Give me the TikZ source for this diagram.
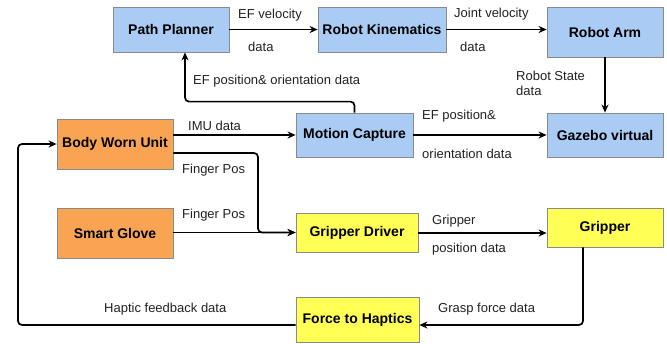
\documentclass[tikz,border=0pt]{standalone}
\usepackage{fontspec}
\setmainfont{Liberation Sans}
\usetikzlibrary{arrows.meta,calc}
\definecolor{boxblue}{HTML}{A9CBF4}
\definecolor{boxorange}{HTML}{F9A453}
\definecolor{boxyellow}{HTML}{FFFF55}
\definecolor{boxedge}{HTML}{8A8A8A}
\definecolor{labelgray}{HTML}{222222}
\tikzset{
  block/.style={draw=boxedge, line width=0.8pt, inner sep=0pt,
    font=\fontsize{14}{16}\selectfont\bfseries, text=black},
  blueblock/.style={block, fill=boxblue},
  orangeblock/.style={block, fill=boxorange},
  yellowblock/.style={block, fill=boxyellow},
  flow/.style={line width=1.7pt, rounded corners=4pt,
    -{Stealth[length=8pt,width=7pt]}},
  lbl/.style={anchor=west, inner sep=0pt, text=labelgray,
    font=\fontsize{13}{15}\selectfont}
}
\begin{document}
\begin{tikzpicture}[x=1pt,y=-1pt]
\useasboundingbox (0,0) rectangle (667,343);

% blocks
\node[blueblock, minimum width=116, minimum height=45] (pp) at (171,29.5) {Path Planner};
\node[blueblock, minimum width=128, minimum height=45] (rk) at (382,29.5) {Robot Kinematics};
\node[blueblock, minimum width=116, minimum height=50] (arm) at (605,32) {Robot Arm};
\node[blueblock, minimum width=116, minimum height=44] (gz) at (605,135) {Gazebo virtual};
\node[blueblock, minimum width=117, minimum height=44] (mc) at (354.5,135) {Motion Capture};
\node[orangeblock, minimum width=116, minimum height=50] (bwu) at (115,144) {Body Worn Unit};
\node[orangeblock, minimum width=116, minimum height=50] (sg) at (115,233) {Smart Glove};
\node[yellowblock, minimum width=122, minimum height=39] (gd) at (357,232.5) {Gripper Driver};
\node[yellowblock, minimum width=116, minimum height=39] (gr) at (605,227.5) {Gripper};
\node[yellowblock, minimum width=123, minimum height=45] (fh) at (357.5,319.5) {Force to Haptics};

% bend points
\coordinate (mcup) at ($(mc.north)+(0,-11)$);
\coordinate (ppin) at ($(pp.south)+(14,0)$);
\coordinate (bwuout) at ($(bwu.east)+(0,9)$);
\coordinate (fingerx) at (258,0);
\coordinate (grout) at ($(gr.south)+(-22,0)$);
\coordinate (fhin) at ($(fh.east)+(0,5.5)$);
\coordinate (fhout) at ($(fh.west)+(0,5.5)$);
\coordinate (leftx) at (18,0);

% connectors
\draw[flow] (pp.east) -- (pp.east -| rk.west);
\draw[flow] (rk.east) -- (rk.east -| arm.west);
\draw[flow] (arm.south) -- (gz.north);
\draw[flow] (mc.north) -- (mcup) -- (mcup -| ppin) -- (ppin);
\draw[flow] (mc.east) -- (mc.east -| gz.west);
\draw[flow] (mc.west -| bwu.east) -- (mc.west);
\draw[flow] (bwuout) -- (bwuout -| fingerx) -- (fingerx |- gd.west) -- (gd.west);
\draw[flow] (sg.east |- gd.west) -- (gd.west);
\draw[flow] ($(gd.east)+(0,0.5)$) -- ($(gd.east -| gr.west)+(0,0.5)$);
\draw[flow] (grout) -- (grout |- fhin) -- (fhin);
\draw[flow] (fhout) -- (fhout -| leftx) -- (leftx |- bwu.west) -- (bwu.west);

% connector labels
\node[lbl] (l1) at (238,15) {EF velocity};
\node[lbl] (l2) at (248,47) {data};
\node[lbl] (l3) at (454,14) {Joint velocity};
\node[lbl] (l4) at (460,47) {data};
\node[lbl] (l5) at (516,76) {Robot State};
\node[lbl] (l6) at (516,91) {data};
\node[lbl] (l7) at (193,81) {EF position\& orientation data};
\node[lbl] (l8) at (422,116) {EF position\&};
\node[lbl] (l9) at (422,154) {orientation data};
\node[lbl] (l10) at (188,126) {IMU data};
\node[lbl] (l11) at (182,170) {Finger Pos};
\node[lbl] (l12) at (182,215) {Finger Pos};
\node[lbl] (l13) at (432,221) {Gripper};
\node[lbl] (l14) at (432,249) {position data};
\node[lbl] (l15) at (438,309) {Grasp force data};
\node[lbl] (l16) at (104,309) {Haptic feedback data};
\end{tikzpicture}
\end{document}
